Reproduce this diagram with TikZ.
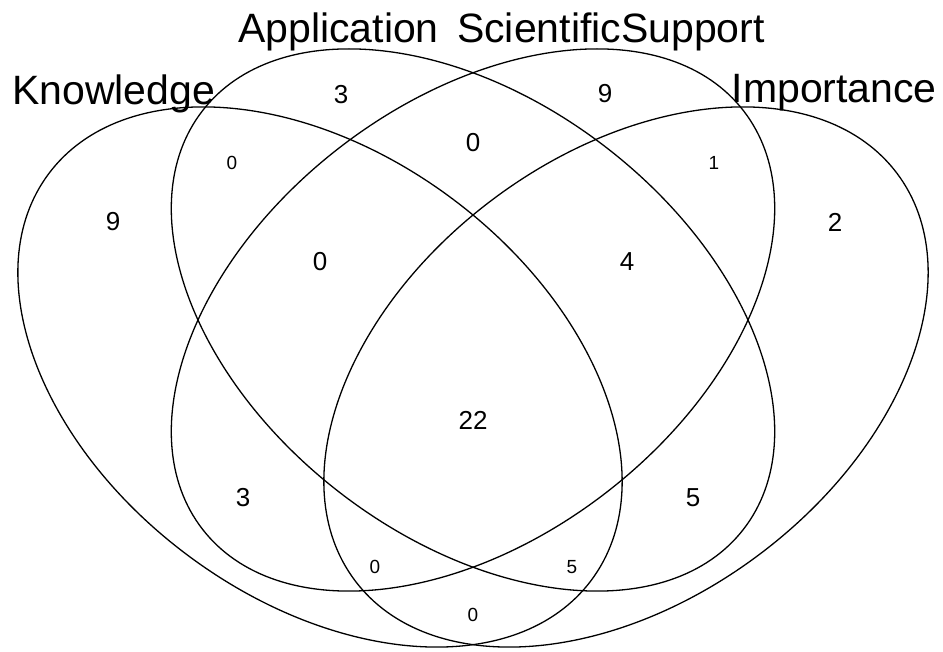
\documentclass[tikz,border=0pt]{standalone}
\usepackage{fontspec}
\setmainfont{Liberation Sans}
\begin{document}
\begin{tikzpicture}[x=1pt,y=1pt,
  setline/.style={line width=1.3pt, draw=black},
  setlabel/.style={inner sep=0pt, font=\fontsize{41}{41}\selectfont},
  bignum/.style={inner sep=0pt, font=\fontsize{26}{26}\selectfont},
  smallnum/.style={inner sep=0pt, font=\fontsize{19}{19}\selectfont}]
\useasboundingbox (0,0) rectangle (943,652);
% ellipses
\coordinate (ck) at (320,275);
\coordinate (ca) at (473,332);
\coordinate (ci) at (626,275);
\draw[setline] (ck) ellipse [x radius=339pt, y radius=222pt, rotate=-36.9];
\draw[setline] (ca) ellipse [x radius=342pt, y radius=218pt, rotate=-37.7];
\draw[setline] (ca) ellipse [x radius=342pt, y radius=218pt, rotate=37.7];
\draw[setline] (ci) ellipse [x radius=339pt, y radius=222pt, rotate=36.9];
% set labels
\node[setlabel, anchor=base west] (lk) at (12,547) {Knowledge};
\node[setlabel, anchor=base west] (la) at (238,609) {Application};
\node[setlabel, anchor=base east] (ls) at (765,609) {ScientificSupport};
\node[setlabel, anchor=base east] (li) at (937,549) {Importance};
% counts
\node[bignum] (n1) at (113,430) {9};
\node[bignum] (n2) at (341,557) {3};
\node[bignum] (n3) at (605,558) {9};
\node[bignum] (n4) at (835,430) {2};
\node[smallnum] (n5) at (232,489) {0};
\node[bignum] (n6) at (473,509) {0};
\node[smallnum] (n7) at (714,489) {1};
\node[bignum] (n8) at (320,390) {0};
\node[bignum] (n9) at (627,390) {4};
\node[bignum] (n10) at (473,232) {22};
\node[bignum] (n11) at (243,154) {3};
\node[bignum] (n12) at (693,154) {5};
\node[smallnum] (n13) at (375,85) {0};
\node[smallnum] (n14) at (572,85) {5};
\node[smallnum] (n15) at (473,37) {0};
\end{tikzpicture}
\end{document}
